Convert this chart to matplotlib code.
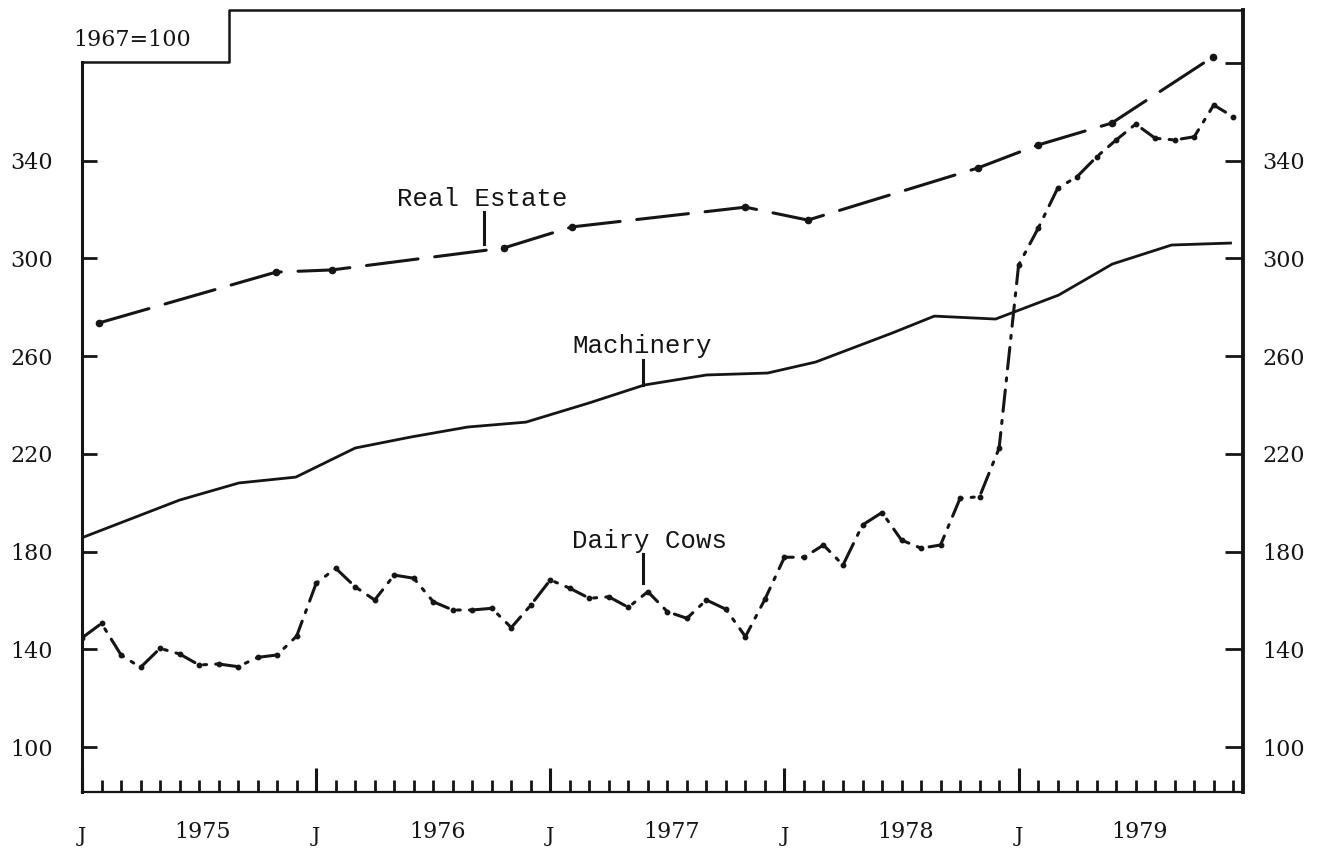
import matplotlib
matplotlib.use("Agg")
import matplotlib.pyplot as plt
from matplotlib.ticker import FixedLocator, NullFormatter

# months counted from January 1975 (0 = Jan 1975)
re_months = [0.87, 9.94, 12.81, 21.62, 25.1, 34.0, 37.2, 45.9, 48.98, 52.77, 57.94]
real_estate = [273.6, 294.4, 295.3, 304.3, 312.9, 321.0, 315.7, 337.0, 346.4, 355.4, 382.4]

mach_months = [0.1, 5.0, 8.04, 10.96, 14.0, 16.85, 19.77, 22.75, 25.97, 28.82, 32.0, 35.14,
               37.6, 41.53, 43.68, 46.82, 50.05, 52.8, 55.84, 58.86]
machinery = [186.0, 201.1, 208.1, 210.5, 222.4, 226.9, 231.0, 233.0, 240.8, 248.2, 252.3, 253.1,
             257.6, 269.5, 276.4, 275.2, 285.0, 297.7, 305.5, 306.3]

dairy_cows = [144.7, 150.6, 137.7, 132.6, 140.4, 138.1, 133.6, 134.0, 132.9, 136.7, 137.7, 145.4,
              167.0, 173.2, 165.6, 160.2, 170.4, 169.1, 159.5, 156.1, 156.1, 156.8, 148.9, 158.1,
              168.4, 165.0, 160.9, 161.5, 157.2, 163.6, 155.4, 152.7, 160.2, 156.4, 145.2, 160.5,
              177.7, 177.7, 182.7, 174.5, 190.9, 196.0, 184.7, 181.4, 182.7, 201.8, 202.5, 222.3,
              297.3, 312.3, 328.7, 333.5, 341.6, 348.5, 355.0, 349.2, 348.5, 349.8, 362.8, 358.0]
dairy_months = list(range(len(dairy_cows)))

y_ticks = [100, 140, 180, 220, 260, 300, 340]
years = ["1975", "1976", "1977", "1978", "1979"]

INK = "#151515"
SERIF = ["DejaVu Serif"]
MONO = ["Liberation Mono", "DejaVu Sans Mono"]

fig = plt.figure(figsize=(13.23, 8.48), dpi=100)
W, H = 1323, 848
ax = fig.add_axes([82 / W, 1 - 792 / H, (1243 - 82) / W, (792 - 10) / H])
ymin, ymax = 81.6, 401.7
xmax = 59.5
ax.set_xlim(0, xmax)
ax.set_ylim(ymin, ymax)

# series
ax.plot(re_months, real_estate, color=INK, lw=2.2, dashes=(17, 5.5), marker="o", ms=4.5,
        dash_capstyle="round")
ax.plot(mach_months, machinery, color=INK, lw=2.0)
ax.plot(dairy_months, dairy_cows, color=INK, lw=2.2, dashes=(7, 3, 1, 3), marker="o", ms=3.2,
        dash_capstyle="round")

# labels with pointer strokes
ax.text(20.5, 324.3, "Real Estate", family=MONO, fontsize=18.5, ha="center", va="center", color=INK)
ax.plot([20.6, 20.6], [306.0, 319.0], color=INK, lw=2.2)
ax.text(28.7, 264.2, "Machinery", family=MONO, fontsize=18.5, ha="center", va="center", color=INK)
ax.plot([28.74, 28.74], [248.4, 258.4], color=INK, lw=2.2)
ax.text(29.1, 184.3, "Dairy Cows", family=MONO, fontsize=18.5, ha="center", va="center", color=INK)
ax.plot([28.74, 28.74], [167.0, 179.2], color=INK, lw=2.2)

# frame: left spine stops at the "1967=100" box, step up to the top rule
ax.spines["top"].set_visible(False)
ax.spines["left"].set_bounds(ymin, 380.5)
ax.spines["left"].set_linewidth(2.2)
ax.spines["right"].set_linewidth(2.8)
ax.spines["bottom"].set_linewidth(1.6)
for s in ax.spines.values():
    s.set_color(INK)
ax.plot([0, 7.53, 7.53, xmax], [380.5, 380.5, ymax, ymax], color=INK, lw=1.8, clip_on=False)
ax.text(-0.45, 389.4, "1967=100", family=SERIF, fontsize=16, ha="left", va="center", color=INK)

# left y ticks, pointing inward
ax.set_yticks(y_ticks)
ax.set_yticklabels([str(v) for v in y_ticks], family=SERIF)
ax.tick_params(axis="y", direction="in", length=11, width=2.0, pad=21, labelsize=16, colors=INK)

# right y ticks (extra unlabelled one at 380)
ax2 = ax.twinx()
ax2.set_ylim(ymin, ymax)
for s in ax2.spines.values():
    s.set_visible(False)
ax2.set_yticks(y_ticks + [380])
ax2.set_yticklabels([str(v) for v in y_ticks] + [""], family=SERIF)
ax2.tick_params(axis="y", direction="in", length=13, width=2.0, pad=14, labelsize=16, colors=INK)

# x ticks: months inward, Januaries longer
ax.set_xticks([0, 12, 24, 36, 48])
ax.set_xticklabels(["J"] * 5, family=SERIF)
ax.xaxis.set_minor_locator(FixedLocator([m for m in range(1, 60) if m % 12]))
ax.xaxis.set_minor_formatter(NullFormatter())
ax.tick_params(axis="x", which="major", direction="in", length=17, width=2.2, pad=25,
               labelsize=15, colors=INK)
ax.tick_params(axis="x", which="minor", direction="in", length=8.5, width=2.0, colors=INK)
for i, yr in enumerate(years):
    ax.text(12 * i + 6.2, -0.051, yr, transform=ax.get_xaxis_transform(), family=SERIF,
            fontsize=16, ha="center", va="center", color=INK)

fig.savefig("out.png", dpi=100, facecolor="white")
